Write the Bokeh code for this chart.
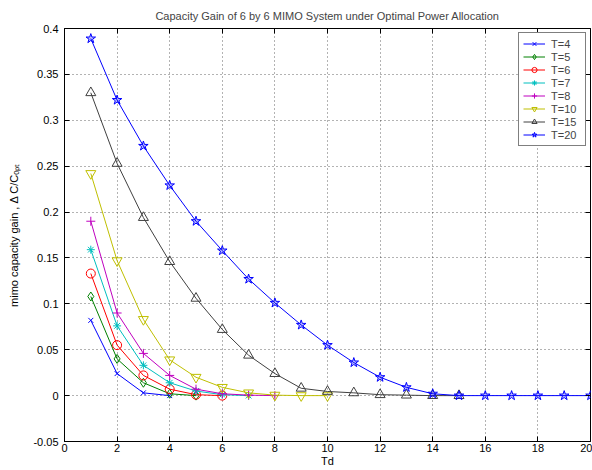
from bokeh.plotting import figure
from bokeh.models import (Range1d, LinearAxis, SingleIntervalTicker, CustomJSTickFormatter,
                          Legend, LegendItem)
from bokeh.embed import file_html
from bokeh.resources import INLINE

# ---- data ----
td = list(range(1, 21))
T4 = [0.082, 0.024, 0.003, 0.0]
T5 = [0.108, 0.040, 0.014, 0.002, 0.0]
T6 = [0.133, 0.055, 0.022, 0.007, 0.001, 0.0]
T7 = [0.159, 0.076, 0.033, 0.014, 0.005, 0.001, 0.0]
T8 = [0.190, 0.090, 0.046, 0.022, 0.007, 0.002, 0.0005, 0.0]
T10 = [0.242, 0.147, 0.083, 0.039, 0.020, 0.009, 0.003, 0.0005, 0.0, 0.0]
T15 = [0.330, 0.253, 0.194, 0.146, 0.106, 0.072, 0.044, 0.024, 0.008, 0.0045,
       0.003, 0.001, 0.0005, 0.0, 0.0]
T20 = [0.389, 0.322, 0.272, 0.229, 0.190, 0.158, 0.127, 0.101, 0.077, 0.055,
       0.036, 0.020, 0.009, 0.002, 0.0, 0.0, 0.0, 0.0, 0.0, 0.0]

series_names = ["T=4", "T=5", "T=6", "T=7", "T=8", "T=10", "T=15", "T=20"]
series_vals = [T4, T5, T6, T7, T8, T10, T15, T20]
colors = ["#0000ff", "#008000", "#ff0000", "#00bfbf", "#bf00bf", "#bfbf00", "#404040", "#0000ff"]
markers = ["x", "diamond", "circle", "asterisk", "cross", "inverted_triangle", "triangle", "star"]
msizes = [7, 9, 9, 8, 9, 10, 10, 10]

FONT = "Liberation Sans"

p = figure(width=592, height=470, output_backend="svg", toolbar_location=None,
           x_range=Range1d(0, 20), y_range=Range1d(-0.05, 0.4),
           min_border_left=64, min_border_right=2, min_border_top=28, min_border_bottom=29)
p.background_fill_color = "white"
p.border_fill_color = "white"
p.outline_line_color = "black"
p.outline_line_width = 1

p.title.text = "Capacity Gain of 6 by 6 MIMO System under Optimal Power Allocation"
p.title.text_font = FONT
p.title.text_font_size = "11px"
p.title.text_font_style = "normal"
p.title.align = "center"
p.title.vertical_align = "top"
p.title.standoff = 10

fmt_code = "return String(+tick.toFixed(3));"
for ax in (p.xaxis[0], p.yaxis[0]):
    ax.major_tick_in = 5
    ax.major_tick_out = 0
    ax.minor_tick_in = 0
    ax.minor_tick_out = 0
    ax.axis_line_color = "black"
    ax.major_tick_line_color = "black"
    ax.major_label_text_font = FONT
    ax.major_label_text_font_size = "11px"
    ax.major_label_text_color = "black"
    ax.formatter = CustomJSTickFormatter(code=fmt_code)
    ax.axis_label_text_font = FONT
    ax.axis_label_text_font_size = "11px"
    ax.axis_label_text_font_style = "normal"
    ax.axis_label_text_color = "black"
p.xaxis[0].ticker = SingleIntervalTicker(interval=2)
p.yaxis[0].ticker = SingleIntervalTicker(interval=0.05)
p.xaxis[0].major_label_standoff = 2
p.xaxis[0].axis_label_standoff = 0
p.yaxis[0].major_label_standoff = 6
p.yaxis[0].axis_label_standoff = 10
p.xaxis[0].axis_label = "Td"
p.yaxis[0].axis_label = "mimo capacity gain , \u0394 C/C\u2092\u209a\u209c"

for loc, ticker in (("above", SingleIntervalTicker(interval=2)),
                    ("right", SingleIntervalTicker(interval=0.05))):
    ax = LinearAxis(ticker=ticker, major_tick_in=5, major_tick_out=0,
                    minor_tick_in=0, minor_tick_out=0,
                    formatter=CustomJSTickFormatter(code="return '';"),
                    major_label_standoff=0, axis_line_color=None,
                    major_tick_line_color="black")
    p.add_layout(ax, loc)

p.xgrid.ticker = p.xaxis[0].ticker
p.ygrid.ticker = p.yaxis[0].ticker
p.grid.grid_line_color = "black"
p.grid.grid_line_alpha = 0.6
p.grid.grid_line_dash = "1 3"

items = []
for name, vals, c, m, s in zip(series_names, series_vals, colors, markers, msizes):
    xs = td[:len(vals)]
    r1 = p.line(xs, vals, line_color=c, line_width=1)
    fa = 0.25 if m == "star" else 0.0
    r2 = p.scatter(xs, vals, marker=m, size=s, line_color=c, fill_color=c, fill_alpha=fa,
                   line_width=1)
    items.append(LegendItem(label=name, renderers=[r1, r2]))

legend = Legend(items=items, location="top_right", margin=4, padding=4, spacing=0,
                label_height=13, glyph_height=13, glyph_width=22, label_standoff=6,
                label_width=30, label_text_font=FONT, label_text_font_size="11px",
                border_line_color="black", border_line_width=1, background_fill_alpha=1)
p.add_layout(legend, "center")

open("out.html", "w").write(file_html(p, INLINE))
